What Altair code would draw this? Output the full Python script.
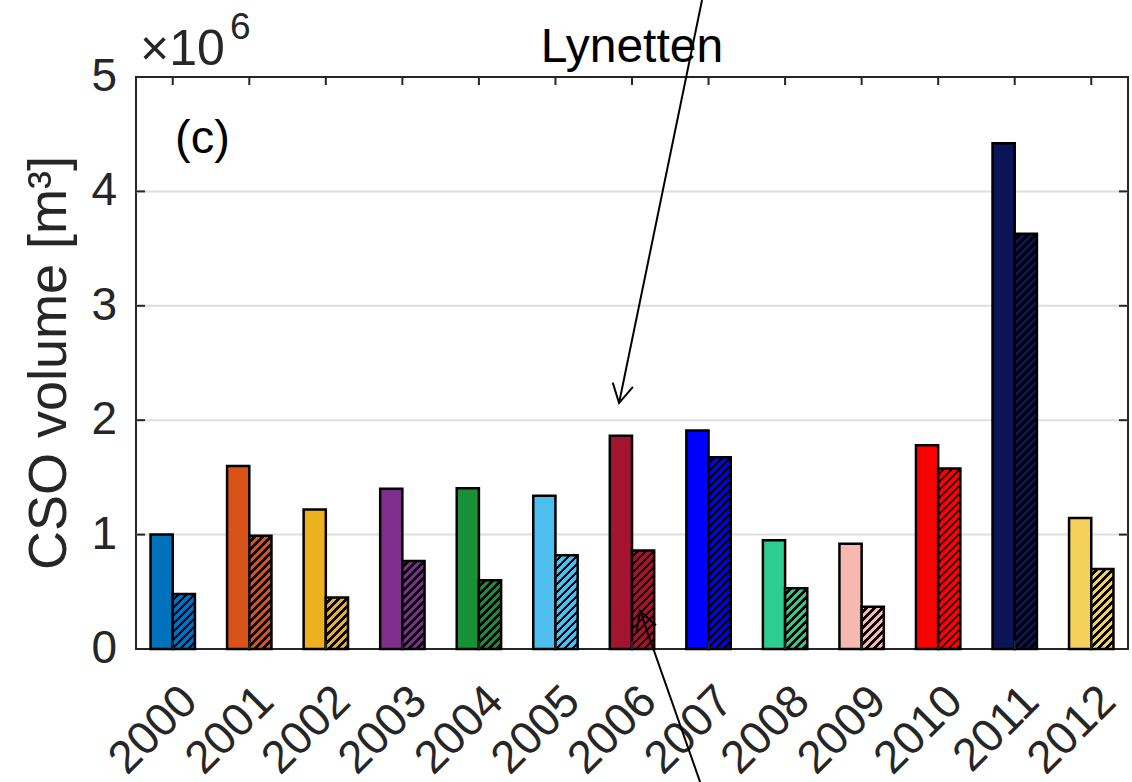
import altair as alt
import pandas as pd

# CSO volumes at Lynetten, in units of 10^6 m^3
years = list(range(2000, 2013))
solid_vol = [1.00, 1.60, 1.22, 1.40, 1.405, 1.34, 1.865, 1.91, 0.95, 0.92, 1.78, 4.42, 1.145]
hatched_vol = [0.48, 0.99, 0.45, 0.77, 0.60, 0.82, 0.86, 1.676, 0.53, 0.37, 1.577, 3.63, 0.70]
bar_colors = [
    "#0072BD", "#D95319", "#EDB120", "#7E2F8E", "#179038", "#4DBEEE", "#A2142F",
    "#0000FF", "#2ECC8F", "#F6B8B1", "#FF0000", "#0B1457", "#F3D15A",
]
y_ticks = [0, 1, 2, 3, 4, 5]
grid_vals = [1, 2, 3, 4]

# annotation arrows (data coordinates) and the direction their heads point
arrow_tail_x = [2006.915, 2006.89]
arrow_tail_y = [5.673, -1.163]
arrow_tip_x = [2005.831, 2006.105]
arrow_tip_y = [2.150, 0.332]
arrow_angle = [191.6, 340.7]

# layout
W, H = 992, 572
X_DOMAIN = [1999.52, 2012.48]
Y_DOMAIN = [0, 5]
BAR_W = 0.29
FONT = "Liberation Sans"
INK = "#262626"

px_x = W / (X_DOMAIN[1] - X_DOMAIN[0])
px_y = H / (Y_DOMAIN[1] - Y_DOMAIN[0])


def hatch(color, value, period=8.0, line=3.6):
    """Diagonal '////' hatching as a striped linear gradient over the bar box."""
    w = BAR_W * px_x
    h = value * px_y
    L = w + h
    stops = []
    k = 0
    while k * period < L:
        a = k * period / L
        b = min((k * period + period - line) / L, 1.0)
        c = min((k + 1) * period / L, 1.0)
        stops += [
            {"offset": a, "color": color},
            {"offset": b, "color": color},
            {"offset": b, "color": "black"},
            {"offset": c, "color": "black"},
        ]
        k += 1
    d = w * w + h * h
    return {
        "gradient": "linear",
        "x1": 0, "y1": 0,
        "x2": w * L / d, "y2": h * L / d,
        "stops": stops,
    }


xscale = alt.Scale(domain=X_DOMAIN, nice=False, zero=False)
yscale = alt.Scale(domain=Y_DOMAIN, nice=False, zero=False)


def X(field):
    return alt.X(field, scale=xscale, axis=None)


def Y(field):
    return alt.Y(field, scale=yscale, axis=None)


df = pd.DataFrame({"year": years, "solid": solid_vol, "hatched": hatched_vol, "color": bar_colors})

# horizontal grid lines
grid = alt.Chart(pd.DataFrame({"v": grid_vals})).mark_rule(color="#dedede", strokeWidth=2).encode(
    y=Y("v:Q"), x=alt.value(0), x2=alt.value(W)
)

solid = (
    alt.Chart(df)
    .transform_calculate(x0=f"datum.year - {BAR_W}", zero="0")
    .mark_rect(stroke="black", strokeWidth=2.5)
    .encode(
        x=X("x0:Q"), x2="year:Q",
        y=Y("solid:Q"), y2="zero:Q",
        fill=alt.Fill("color:N", scale=None),
    )
)

hatched_layers = []
for i in range(len(years)):
    hatched_layers.append(
        alt.Chart(df.iloc[[i]])
        .transform_calculate(x1=f"datum.year + {BAR_W}", zero="0")
        .mark_rect(fill=hatch(bar_colors[i], hatched_vol[i]), stroke="black", strokeWidth=2.5)
        .encode(x=X("year:Q"), x2="x1:Q", y=Y("hatched:Q"), y2="zero:Q")
    )

# inward tick marks on all four sides of the box
xt = pd.DataFrame({"year": years})
yt = pd.DataFrame({"v": y_ticks})
tick_style = dict(color=INK, strokeWidth=2)
ticks_bottom = alt.Chart(xt).mark_rule(**tick_style).encode(
    x=X("year:Q"), y=alt.value(H), y2=alt.value(H - 8))
ticks_top = alt.Chart(xt).mark_rule(**tick_style).encode(
    x=X("year:Q"), y=alt.value(0), y2=alt.value(8))
ticks_left = alt.Chart(yt).mark_rule(**tick_style).encode(
    y=Y("v:Q"), x=alt.value(0), x2=alt.value(9))
ticks_right = alt.Chart(yt).mark_rule(**tick_style).encode(
    y=Y("v:Q"), x=alt.value(W), x2=alt.value(W - 9))

# tick labels
x_labels = (
    alt.Chart(xt)
    .transform_calculate(lx="datum.year + 0.22", lab="toString(datum.year)")
    .mark_text(font=FONT, fontSize=46, color=INK, angle=315, align="right", baseline="middle")
    .encode(x=X("lx:Q"), y=alt.value(H + 45), text="lab:N")
)
y_labels = (
    alt.Chart(yt)
    .transform_calculate(lab="toString(datum.v)")
    .mark_text(font=FONT, fontSize=46, color=INK, align="right", baseline="middle")
    .encode(y=Y("v:Q"), x=alt.value(-19), text="lab:N")
)


def label(text, x, y, size, color=INK, angle=0, align="left", baseline="alphabetic"):
    return alt.Chart(pd.DataFrame({"t": [text]})).mark_text(
        font=FONT, fontSize=size, color=color, align=align, baseline=baseline, angle=angle
    ).encode(text="t:N", x=alt.value(x), y=alt.value(y))


y_title = label("CSO volume [m³]", -86, H / 2, 54, angle=270, align="center", baseline="middle")
title = label("Lynetten", W / 2, -15, 48, color="black", align="center")
panel = label("(c)", 39, 76, 47, color="black")
exp_base = label("×10", 4, -12, 50)
exp_pow = label("6", 94, -38, 37)

arrows = pd.DataFrame({
    "xt": arrow_tail_x, "yt": arrow_tail_y,
    "xh": arrow_tip_x, "yh": arrow_tip_y, "ang": arrow_angle,
})
arrow_lines = alt.Chart(arrows).mark_rule(color="black", strokeWidth=2).encode(
    x=X("xt:Q"), y=Y("yt:Q"), x2="xh:Q", y2="yh:Q",
)
arrow_heads = alt.Chart(arrows).mark_point(
    shape="M -0.55 1 L 0 0 L 0.55 1", size=1400, filled=False,
    stroke="black", strokeWidth=2, opacity=1,
).encode(
    x=X("xh:Q"), y=Y("yh:Q"),
    angle=alt.Angle("ang:Q", scale=None),
)

chart = (
    alt.layer(
        grid, solid, *hatched_layers,
        ticks_bottom, ticks_top, ticks_left, ticks_right,
        x_labels, y_labels, y_title, title, panel, exp_base, exp_pow,
        arrow_lines, arrow_heads,
    )
    .properties(
        width=W, height=H,
        autosize=alt.AutoSizeParams(type="none"),
        padding={"left": 136, "top": 77, "right": 4, "bottom": 133},
        background="white",
    )
    .configure_view(stroke=INK, strokeWidth=2)
)

chart.save("out.html", embed_options={"renderer": "svg", "actions": False})
